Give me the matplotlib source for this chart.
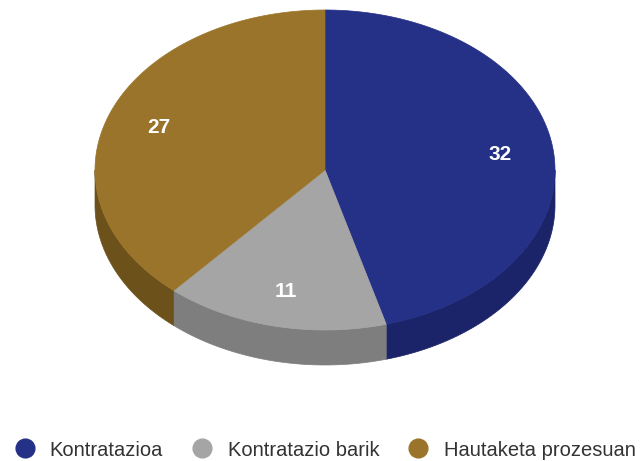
import numpy as np
import matplotlib
matplotlib.use("Agg")
import matplotlib.pyplot as plt
from matplotlib.patches import Polygon
from matplotlib.lines import Line2D

categories = ["Kontratazioa", "Kontratazio barik", "Hautaketa prozesuan"]
values = [32, 11, 27]
top_colors = ["#253087", "#a5a5a5", "#9a742a"]
side_colors = ["#1b2468", "#7e7e7e", "#6c511b"]

plt.rcParams['font.family'] = ['Liberation Sans', 'DejaVu Sans']

fig = plt.figure(figsize=(6.41, 4.61), dpi=100)
ax = fig.add_axes([0, 0, 1, 1])
ax.set_xlim(0, 641)
ax.set_ylim(461, 0)
ax.axis('off')

cx, cy, rx, ry, depth = 325, 170, 230, 160, 35

def pt(theta_deg, dy=0):
    t = np.radians(theta_deg)
    return cx + rx * np.cos(t), cy - ry * np.sin(t) + dy

total = sum(values)
start = 90.0
ranges = []
for v in values:
    span = 360.0 * v / total
    ranges.append((start - span, start))
    start -= span

# side walls (visible lower half: angles in [-180, 0])
for (a0, a1), sc in zip(ranges, side_colors):
    for shift in (0, 360, -360):
        lo = max(a0 + shift, -180)
        hi = min(a1 + shift, 0)
        if hi > lo:
            th = np.linspace(lo, hi, 100)
            xs, ys = pt(th)
            xs2, ys2 = pt(th[::-1], depth)
            poly = np.column_stack([np.concatenate([xs, xs2]), np.concatenate([ys, ys2])])
            ax.add_patch(Polygon(poly, closed=True, facecolor=sc, edgecolor=sc, lw=0.5))

# top faces
for (a0, a1), tc in zip(ranges, top_colors):
    th = np.linspace(a0, a1, 200)
    xs, ys = pt(th)
    poly = np.column_stack([np.concatenate([[cx], xs]), np.concatenate([[cy], ys])])
    ax.add_patch(Polygon(poly, closed=True, facecolor=tc, edgecolor=tc, lw=0.5))

# labels
for (a0, a1), v in zip(ranges, values):
    mid = (a0 + a1) / 2
    x, y = cx + 0.77 * rx * np.cos(np.radians(mid)), cy - 0.77 * ry * np.sin(np.radians(mid)) + 1
    ax.text(x, y, str(v), color='white', fontsize=15, fontweight='bold',
            ha='center', va='center')

handles = [Line2D([0], [0], marker='o', linestyle='none', markersize=13.5,
                  markerfacecolor=c, markeredgecolor=c) for c in top_colors]
fig.legend(handles, categories, loc='center', bbox_to_anchor=(0.507, 1 - 450 / 461),
           ncol=3, frameon=False, fontsize=14.5, handlelength=1.0, handletextpad=0.75,
           columnspacing=1.45, labelcolor='#333333')

fig.savefig("out.png", dpi=100)
